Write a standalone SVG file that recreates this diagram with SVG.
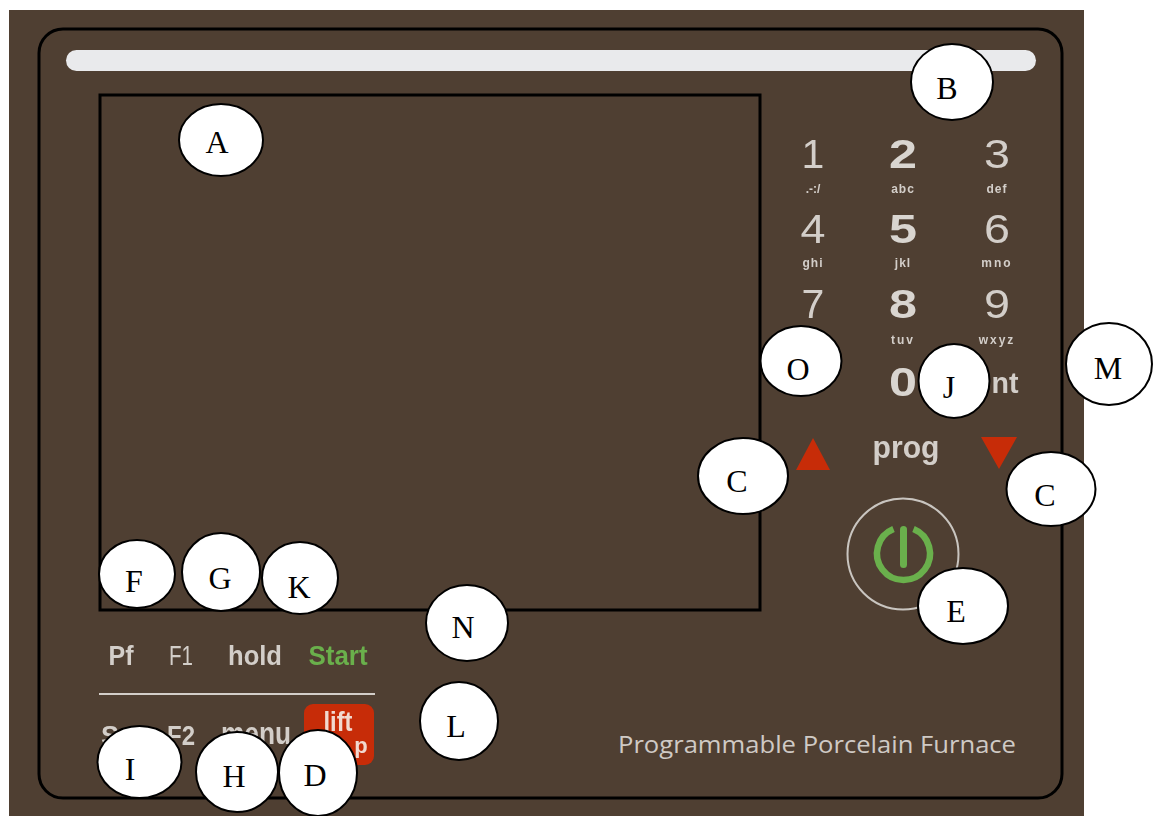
<svg xmlns="http://www.w3.org/2000/svg" width="1154" height="816" viewBox="0 0 1154 816">
<style>
.frame{fill:none;stroke:#000;stroke-width:3}
.callout ellipse{fill:#fff;stroke:#000;stroke-width:2}
.callout text{font-family:"Liberation Serif",serif;font-size:32px;fill:#000;text-anchor:middle}
.key,.sub,.soft{font-family:"Liberation Sans",Arial,sans-serif;fill:#d3cec9;text-anchor:middle}
.key{font-size:41px}
.b{font-weight:bold;fill:#d9d5d0}
.sub{font-size:12px;font-weight:bold}
.soft{font-size:27px;font-weight:bold}
</style>
<defs><filter id="soft" x="-5%" y="-5%" width="110%" height="110%"><feGaussianBlur stdDeviation="0.5"/></filter></defs>
<rect width="1154" height="816" fill="#fff"/>
<g id="panel">
<rect x="9" y="10" width="1075" height="806" fill="#4f3f32"/>
<rect class="frame" x="39" y="29" width="1023" height="769" rx="24"/>
<rect id="slot" x="66" y="50" width="970" height="21" rx="10.5" fill="#e9eaec"/>
<rect id="screen" class="frame" x="100" y="95" width="660" height="515"/>
</g>
<g id="keypad" filter="url(#soft)">
<text class="key" x="813" y="168">1</text>
<text class="key b" x="903" y="168" textLength="28" lengthAdjust="spacingAndGlyphs">2</text>
<text class="key" x="997" y="168" textLength="26" lengthAdjust="spacingAndGlyphs">3</text>
<text class="sub" x="813" y="193">.-:/</text>
<text class="sub" x="903" y="193" letter-spacing="1">abc</text>
<text class="sub" x="997" y="193" letter-spacing="1">def</text>
<text class="key" x="813" y="243" textLength="25" lengthAdjust="spacingAndGlyphs">4</text>
<text class="key b" x="903" y="243" textLength="28" lengthAdjust="spacingAndGlyphs">5</text>
<text class="key" x="997" y="243" textLength="26" lengthAdjust="spacingAndGlyphs">6</text>
<text class="sub" x="813" y="267" letter-spacing="1">ghi</text>
<text class="sub" x="903" y="267" letter-spacing="1">jkl</text>
<text class="sub" x="997" y="267" letter-spacing="2">mno</text>
<text class="key" x="813" y="318">7</text>
<text class="key b" x="903" y="318" textLength="28" lengthAdjust="spacingAndGlyphs">8</text>
<text class="key" x="997" y="318" textLength="26" lengthAdjust="spacingAndGlyphs">9</text>
<text class="sub" x="903" y="344" letter-spacing="2">tuv</text>
<text class="sub" x="997" y="344" letter-spacing="2">wxyz</text>
<text class="key b" x="903" y="396" textLength="28" lengthAdjust="spacingAndGlyphs">0</text>
<text class="soft" x="1005" y="393" style="font-size:30px" textLength="27" lengthAdjust="spacingAndGlyphs">nt</text>
<text class="soft" x="906" y="458" style="font-size:31px" textLength="67" lengthAdjust="spacingAndGlyphs">prog</text>
</g>
<g id="arrows">
<polygon points="796,470 830,470 813,438" fill="#c72c08"/>
<polygon points="981,437 1017,437 999,469" fill="#c72c08"/>
</g>
<g id="power">
<circle cx="903" cy="554" r="55.5" fill="none" stroke="#c9c5c0" stroke-width="2"/>
<path d="M893.500 529 A26.500 26.500 0 1 0 913.500 529" fill="none" stroke="#6ab04c" stroke-width="6.500"/>
<line x1="903.500" y1="529.500" x2="903.500" y2="564.500" stroke="#6ab04c" stroke-width="7" stroke-linecap="round"/>
</g>
<g id="softkeys" filter="url(#soft)">
<text class="soft" x="121" y="665" textLength="25" lengthAdjust="spacingAndGlyphs">Pf</text>
<text class="soft" x="181" y="665" style="font-weight:400" textLength="24" lengthAdjust="spacingAndGlyphs">F1</text>
<text class="soft" x="255" y="665" textLength="54" lengthAdjust="spacingAndGlyphs">hold</text>
<text class="soft" x="338" y="665" style="fill:#6ab04c" textLength="59" lengthAdjust="spacingAndGlyphs">Start</text>
<line x1="99" y1="694" x2="375" y2="694" stroke="#d3cec9" stroke-width="2"/>
<text class="soft" x="110" y="745">S</text>
<text class="soft" x="181" y="745" textLength="28" lengthAdjust="spacingAndGlyphs">F2</text>
<text class="soft" x="256" y="744" style="font-size:32px" textLength="70" lengthAdjust="spacingAndGlyphs">menu</text>
</g>
<g id="lift-stop">
<rect x="304" y="704" width="70" height="61" rx="9" fill="#c72c08"/>
<g filter="url(#soft)">
<text class="soft" x="338" y="731" style="fill:#f1d9d0" textLength="29" lengthAdjust="spacingAndGlyphs">lift</text>
<text class="soft" x="361" y="753" style="fill:#f1d9d0;font-size:22px">p</text>
</g>
</g>
<text id="caption" class="soft" x="817" y="753" style="font-family:'Open Sans',sans-serif;font-size:24px;font-weight:400;fill:#cfcac5" textLength="398" lengthAdjust="spacingAndGlyphs">Programmable Porcelain Furnace</text>
<g id="connectors"></g>
<g id="callout-A" class="callout"><ellipse cx="221" cy="140" rx="42" ry="36"/><text x="217" y="153">A</text></g>
<g id="callout-B" class="callout"><ellipse cx="952" cy="82" rx="41" ry="38"/><text x="947" y="99">B</text></g>
<g id="callout-O" class="callout"><ellipse cx="801" cy="361" rx="40.500" ry="35"/><text x="798" y="380">O</text></g>
<g id="callout-J" class="callout"><ellipse cx="954" cy="381" rx="35.500" ry="37"/><text x="949" y="398">J</text></g>
<g id="callout-M" class="callout"><ellipse cx="1109" cy="364" rx="43" ry="41"/><text x="1108" y="379">M</text></g>
<g id="callout-C1" class="callout"><ellipse cx="743" cy="476" rx="45" ry="38"/><text x="737" y="492">C</text></g>
<g id="callout-C2" class="callout"><ellipse cx="1051" cy="489" rx="44.500" ry="37"/><text x="1045" y="506">C</text></g>
<g id="callout-E" class="callout"><ellipse cx="963" cy="606" rx="45" ry="38"/><text x="956" y="622">E</text></g>
<g id="callout-F" class="callout"><ellipse cx="137" cy="574" rx="38" ry="34"/><text x="134" y="592">F</text></g>
<g id="callout-G" class="callout"><ellipse cx="221" cy="572" rx="39" ry="39"/><text x="220" y="589">G</text></g>
<g id="callout-K" class="callout"><ellipse cx="300" cy="578" rx="38" ry="36"/><text x="299" y="598">K</text></g>
<g id="callout-N" class="callout"><ellipse cx="467" cy="623" rx="41" ry="38"/><text x="463" y="638">N</text></g>
<g id="callout-L" class="callout"><ellipse cx="459" cy="721" rx="39" ry="39"/><text x="456" y="737">L</text></g>
<g id="callout-I" class="callout"><ellipse cx="139.500" cy="762" rx="42" ry="36"/><text x="130" y="780">I</text></g>
<g id="callout-H" class="callout"><ellipse cx="237" cy="772" rx="41" ry="40"/><text x="234" y="787">H</text></g>
<g id="callout-D" class="callout"><ellipse cx="318" cy="773" rx="39" ry="43"/><text x="315" y="786">D</text></g>
</svg>
